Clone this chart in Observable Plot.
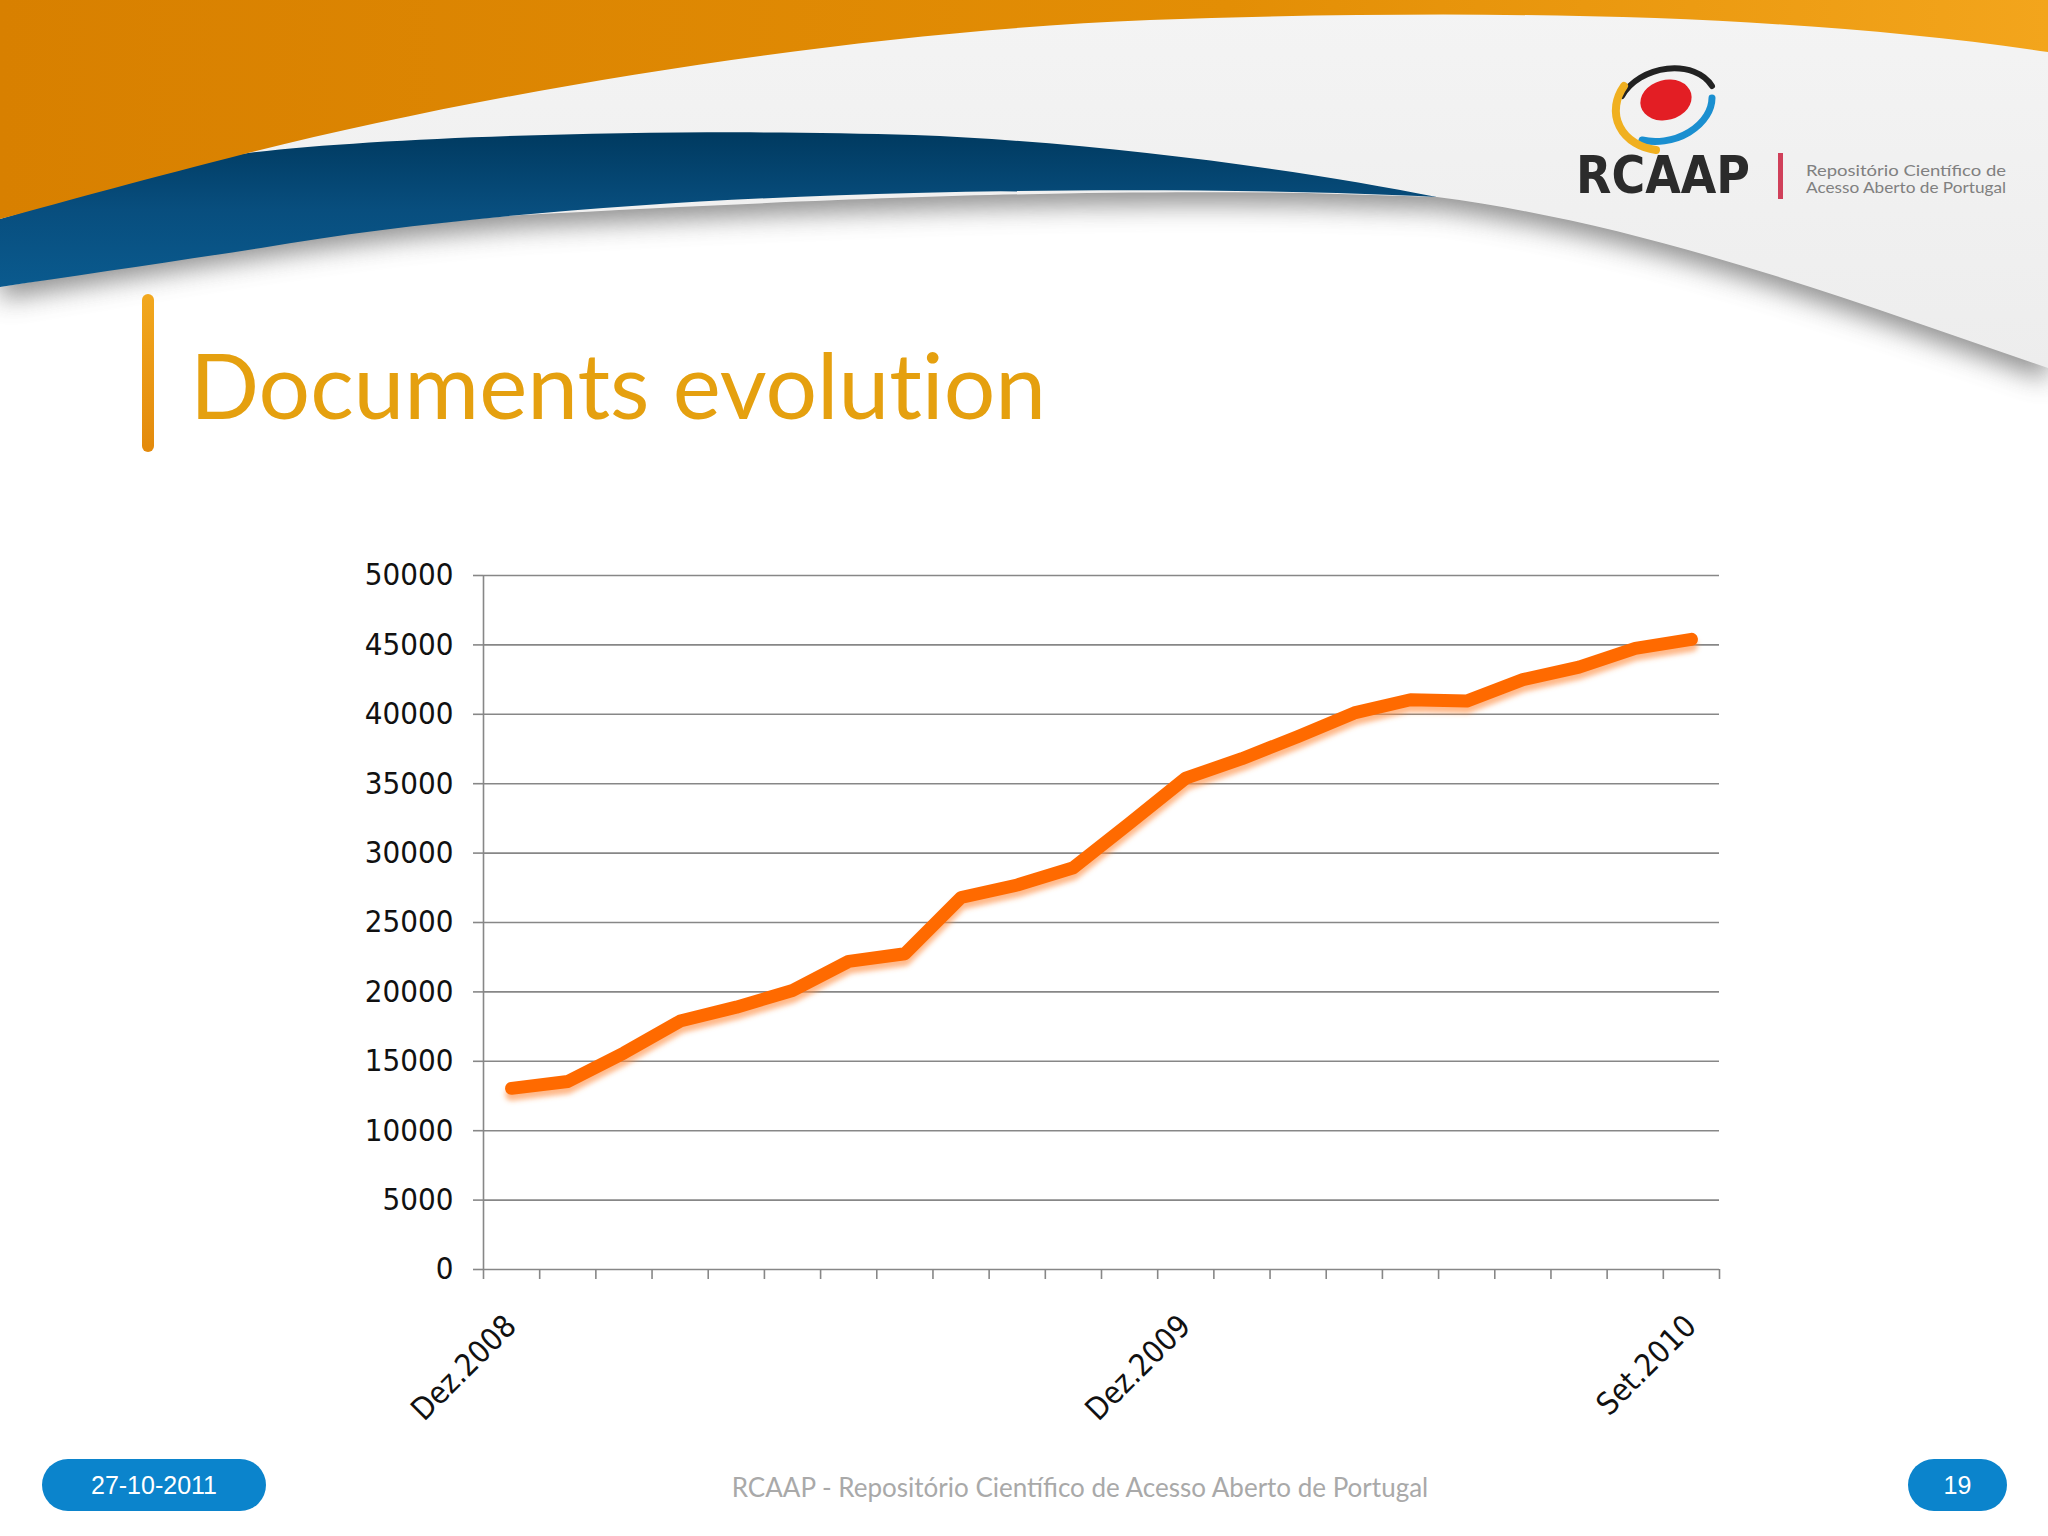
<!DOCTYPE html>
<html>
<head>
<meta charset="utf-8">
<script src="https://cdn.jsdelivr.net/npm/d3@7"></script>
<script src="https://cdn.jsdelivr.net/npm/@observablehq/plot@0.6"></script>
<style>
  html, body { margin: 0; padding: 0; background: #fff; }
  #slide { position: relative; width: 2048px; height: 1536px; overflow: hidden; background: #fff; }
  #bg { position: absolute; left: 0; top: 0; }
  #title { position: absolute; left: 190px; top: 338px; font-family: Lato, "Open Sans", sans-serif; font-size: 91px; color: #E5A00F; line-height: 1; white-space: nowrap; font-variant-ligatures: none; font-feature-settings: "liga" 0; }
  #chart { position: absolute; left: 0; top: 540px; }
  .pill { position: absolute; top: 1459px; height: 52px; border-radius: 26px; background: #0B84CC; color: #fff; font-family: "Liberation Sans", Arial, sans-serif; font-size: 25px; display: flex; align-items: center; justify-content: center; }
  #footer { position: absolute; left: 0; width: 2160px; top: 1471px; text-align: center; font-family: Lato, sans-serif; font-size: 26px; color: #A9A9A9; }
</style>
</head>
<body>
<div id="slide">
<svg id="bg" width="2048" height="1536" viewBox="0 0 2048 1536">
  <defs>
    <linearGradient id="og" x1="0" y1="0" x2="1" y2="0">
      <stop offset="0" stop-color="#D88000"/>
      <stop offset="0.6" stop-color="#E38E05"/>
      <stop offset="1" stop-color="#F3A51C"/>
    </linearGradient>
    <linearGradient id="bg2" x1="0" y1="0" x2="0" y2="1">
      <stop offset="0" stop-color="#003A60"/>
      <stop offset="0.5" stop-color="#084E7E"/>
      <stop offset="1" stop-color="#0A5A8E"/>
    </linearGradient>
    <linearGradient id="gg" x1="0" y1="0" x2="0" y2="1">
      <stop offset="0" stop-color="#F4F4F4"/>
      <stop offset="1" stop-color="#EDEDED"/>
    </linearGradient>
    <linearGradient id="tb" x1="0" y1="0" x2="0" y2="1">
      <stop offset="0" stop-color="#F2A81E"/>
      <stop offset="1" stop-color="#E38A0C"/>
    </linearGradient>
    <filter id="blur" x="-10%" y="-10%" width="120%" height="140%"><feGaussianBlur stdDeviation="13"/></filter>
  </defs>
  <path d="M0,0 H2048 V368 C1850,300 1650,225 1437,197 L1306,193 C1100,190 900,195 522,215 C350,228 200,255 0,287 Z" fill="#6a6a6a" opacity="0.75" transform="translate(0,12)" filter="url(#blur)"/>
  <path d="M0,0 H2048 V368 C1850,300 1650,225 1437,197 L1306,193 C1100,190 900,195 522,215 C350,228 200,255 0,287 Z" fill="url(#gg)"/>
  <path d="M0,219 C80,195 170,165 248,153 C400,135 700,128 914,135 C1100,142 1300,170 1437,197 C1300,190 1100,188 914,193 C700,198 450,215 261,248 C170,262 80,275 0,287 Z" fill="url(#bg2)"/>
  <path d="M0,0 H2048 V52 C1800,15 1500,8 1150,20 C850,32 500,90 248,153 C150,178 70,200 0,219 Z" fill="url(#og)"/>
  <!-- logo -->
  <path d="M1622,96 A50 37 -15 0 1 1712,86" fill="none" stroke="#222" stroke-width="6" stroke-linecap="round"/>
  <path d="M1712,98 A50 37 -15 0 1 1642,140" fill="none" stroke="#1A8FD0" stroke-width="7" stroke-linecap="round"/>
  <path d="M1624,86 A54 44 -15 0 0 1656,150" fill="none" stroke="#F0B020" stroke-width="8" stroke-linecap="round"/>
  <ellipse cx="1666" cy="100" rx="26" ry="20" fill="#E31E24" transform="rotate(-15 1666 100)"/>
  <text x="1576" y="193" font-family="DejaVu Sans" font-weight="bold" font-size="52" fill="#2B2B2B" textLength="174" lengthAdjust="spacingAndGlyphs">RCAAP</text>
  <rect x="1778" y="153" width="5" height="46" fill="#D0405A"/>
  <text x="1806" y="176" font-family="Lato" font-size="15" fill="#808080" textLength="200" lengthAdjust="spacingAndGlyphs">Repositório Científico de</text>
  <text x="1806" y="193" font-family="Lato" font-size="15" fill="#808080" textLength="200" lengthAdjust="spacingAndGlyphs">Acesso Aberto de Portugal</text>
  <rect x="142" y="294" width="12" height="158" rx="6" fill="url(#tb)"/>
</svg>
<div id="title">Documents evolution</div>
<div id="chart"></div>
<div class="pill" style="left:42px;width:224px;">27-10-2011</div>
<div class="pill" style="left:1908px;width:99px;">19</div>
<div id="footer">RCAAP - Repositório Científico de Acesso Aberto de Portugal</div>
</div>
<script>
// Months (categories) from Dec 2008 to Sep 2010
const months = ["Dez.2008","Jan.2009","Fev.2009","Mar.2009","Abr.2009","Mai.2009","Jun.2009","Jul.2009","Ago.2009","Set.2009","Out.2009","Nov.2009",
                "Dez.2009","Jan.2010","Fev.2010","Mar.2010","Abr.2010","Mai.2010","Jun.2010","Jul.2010","Ago.2010","Set.2010"];
// Number of documents
const documents = [13050,13550,15600,17900,18900,20100,22200,22750,26800,27700,28950,32150,
                   35400,36800,38400,40100,41050,40950,42500,43400,44750,45400];
// Category labels that are displayed on the x axis
const shownLabels = ["Dez.2008","Dez.2009","Set.2010"];
// Y axis ticks
const yTicks = [0,5000,10000,15000,20000,25000,30000,35000,40000,45000,50000];

const table = months.map((m, i) => ({i, month: m, value: documents[i]}));
const boundaries = d3.range(-0.5, months.length, 1);
const axisColor = "#878787";

const plot = Plot.plot({
  width: 2048,
  height: 900,
  marginLeft: 483,
  marginRight: 329,
  marginTop: 35,
  marginBottom: 171,
  style: {fontFamily: "'DejaVu Sans Condensed', 'DejaVu Sans', sans-serif", fontSize: "31px", background: "transparent", color: "#111"},
  x: {domain: [-0.5, months.length - 0.5], axis: null},
  y: {domain: [0, 50000], axis: null},
  marks: [
    Plot.gridY(yTicks, {stroke: axisColor, strokeOpacity: 1, strokeWidth: 1.6}),
    Plot.axisY({ticks: yTicks, tickSize: 10, tickPadding: 20, tickFormat: d => String(d), stroke: axisColor, strokeWidth: 1.6, fill: "#111", label: null}),
    Plot.axisX({ticks: boundaries, tickSize: 10, tickFormat: () => "", stroke: axisColor, strokeWidth: 1.6, label: null}),
    Plot.ruleX([-0.5], {stroke: axisColor, strokeWidth: 1.6}),
    Plot.line(table, {x: "i", y: "value", stroke: "#FF8A3A", strokeWidth: 13, strokeOpacity: 0.6, dy: 6, strokeLinecap: "round", strokeLinejoin: "round"}),
    Plot.line(table, {x: "i", y: "value", stroke: "#FF6A00", strokeWidth: 13, strokeLinecap: "round", strokeLinejoin: "round"}),
    Plot.text(table.filter(d => shownLabels.includes(d.month)), {x: "i", frameAnchor: "bottom", text: "month", rotate: -45, textAnchor: "end", lineAnchor: "top", dx: -9, dy: 43, fill: "#111", fontSize: 31})
  ]
});
document.getElementById("chart").appendChild(plot);
// soften the shadow line
const svg = d3.select(plot);
svg.append("defs").html('<filter id="lineblur" x="-5%" y="-20%" width="110%" height="140%"><feGaussianBlur stdDeviation="2.5"/></filter>');
const lines = plot.querySelectorAll('g[aria-label="line"]');
if (lines.length) lines[0].setAttribute("filter", "url(#lineblur)");
</script>
</body>
</html>
